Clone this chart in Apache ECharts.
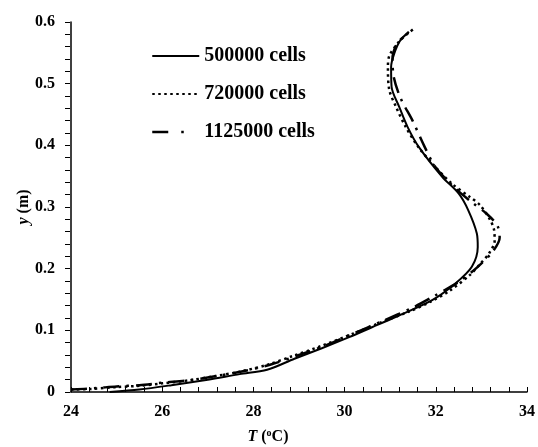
<!DOCTYPE html>
<html>
<head>
<meta charset="utf-8">
<script src="https://cdn.jsdelivr.net/npm/echarts@6/dist/echarts.min.js"></script>
<style>html,body{margin:0;padding:0;background:#fff;}#c{width:538px;height:447px;}</style>
</head>
<body>
<div id="c"></div>
<script>
var seriesNames = ['500000 cells', '720000 cells', '1125000 cells'];
var xTicks = [24, 26, 28, 30, 32, 34];
var yTicks = [0, 0.1, 0.2, 0.3, 0.4, 0.5, 0.6];

var T500 = [24.85, 25.5, 26.2, 27.0, 27.7, 28.3, 28.9, 29.5, 30.1, 30.6, 31.13, 31.92, 32.43, 32.79, 32.92, 32.9, 32.71, 32.5, 32.14, 31.63, 31.38, 31.2, 31.03, 31.02, 31.09, 31.22, 31.41];
var Y500 = [0, 0.004, 0.011, 0.02, 0.029, 0.036, 0.054, 0.071, 0.089, 0.105, 0.122, 0.149, 0.176, 0.203, 0.235, 0.257, 0.295, 0.322, 0.349, 0.397, 0.43, 0.462, 0.495, 0.527, 0.549, 0.57, 0.584];

var T720 = [24.0, 24.45, 25.0, 25.5, 26.0, 26.6, 27.1, 27.7, 28.3, 28.85, 29.5, 30.2, 30.8, 31.4, 31.9, 32.3, 32.75, 33.0, 33.17, 33.29, 33.28, 33.2, 32.97, 32.75, 32.35, 31.99, 31.62, 31.34, 31.13, 30.98, 30.95, 30.98, 31.16, 31.3, 31.5];
var Y720 = [0.004, 0.005, 0.008, 0.01, 0.014, 0.019, 0.025, 0.033, 0.044, 0.058, 0.075, 0.095, 0.113, 0.13, 0.147, 0.164, 0.19, 0.21, 0.225, 0.245, 0.262, 0.278, 0.303, 0.316, 0.338, 0.365, 0.397, 0.43, 0.462, 0.49, 0.527, 0.545, 0.565, 0.576, 0.588];

var T1125 = [24.0, 24.5, 25.0, 25.5, 26.0, 26.6, 27.2, 27.8, 28.4, 29.0, 29.6, 30.2, 30.8, 31.5, 31.95, 32.49, 32.92, 33.25, 33.4, 33.35, 33.1, 32.82, 32.43, 31.99, 31.74, 31.49, 31.23, 31.08, 31.05, 31.15, 31.4];
var Y1125 = [0.004, 0.006, 0.009, 0.011, 0.015, 0.019, 0.026, 0.034, 0.045, 0.06, 0.076, 0.095, 0.114, 0.137, 0.155, 0.178, 0.203, 0.228, 0.25, 0.27, 0.29, 0.306, 0.33, 0.365, 0.4, 0.44, 0.476, 0.51, 0.54, 0.565, 0.583];

function pairs(xs, ys) { return xs.map(function (x, i) { return [x, ys[i]]; }); }

var font = '"Liberation Serif", "Times New Roman", serif';
var chart = echarts.init(document.getElementById('c'), null, { renderer: 'canvas' });

var GL = 71, GR = 5, GT = 22, GB = 55, W = 538, H = 447;
var gridW = W - GL - GR, gridH = H - GT - GB;

function mainAxis(margin) {
  return {
    axisLine: { show: true, onZero: false, lineStyle: { color: '#000', width: 1.5 } },
    axisTick: { show: false },
    minorTick: { show: false },
    splitLine: { show: false },
    minorSplitLine: { show: false },
    axisLabel: { color: '#000', fontFamily: font, fontWeight: 'bold', fontSize: 16, margin: margin }
  };
}
function tickAxis() {
  return {
    axisLine: { show: false, onZero: false },
    axisTick: { show: true, length: 5, lineStyle: { color: '#000', width: 1 } },
    minorTick: { show: true, splitNumber: 5, length: 5, lineStyle: { color: '#000', width: 1 } },
    splitLine: { show: false },
    minorSplitLine: { show: false },
    axisLabel: { show: false }
  };
}

var lineStyles = [
  { color: '#000', width: 2, type: 'solid' },
  { color: '#000', width: 2.5, type: [2.5, 3.5] },
  { color: '#000', width: 2.5, type: [16, 7, 2.5, 7] }
];

chart.setOption({
  animation: false,
  backgroundColor: '#fff',
  grid: { left: GL, right: GR, top: GT, bottom: GB, containLabel: false },
  xAxis: [
    Object.assign(mainAxis(12), { type: 'value', position: 'bottom', min: xTicks[0], max: xTicks[xTicks.length - 1], interval: 2 }),
    Object.assign(tickAxis(), { type: 'value', position: 'top', offset: -gridH, min: xTicks[0], max: xTicks[xTicks.length - 1], interval: 2 })
  ],
  yAxis: [
    Object.assign(mainAxis(16), { type: 'value', position: 'left', min: yTicks[0], max: yTicks[yTicks.length - 1], interval: 0.1 }),
    Object.assign(tickAxis(), { type: 'value', position: 'right', offset: -gridW, min: yTicks[0], max: yTicks[yTicks.length - 1], interval: 0.1 })
  ],
  legend: {
    orient: 'vertical', left: 151, top: 46, padding: 0, itemGap: 18, itemWidth: 47, itemHeight: 20,
    data: [
      { name: seriesNames[0] },
      { name: seriesNames[1] },
      { name: seriesNames[2], lineStyle: { type: [16, 13, 2.5, 30], width: 2.5 } }
    ],
    itemStyle: { opacity: 0 },
    textStyle: { color: '#000', fontFamily: font, fontWeight: 'bold', fontSize: 20 }
  },
  graphic: [
    {
      type: 'text', x: 24, y: 207, rotation: Math.PI / 2,
      style: {
        text: '{i|y} (m)', align: 'center', verticalAlign: 'middle',
        fill: '#000', font: 'bold 16px ' + font,
        rich: { i: { fontStyle: 'italic', fontWeight: 'bold', fontSize: 16, fontFamily: font } }
      }
    },
    {
      type: 'text', x: 268, y: 437,
      style: {
        text: '{i|T} (' + '{s|o}' + 'C)', align: 'center', verticalAlign: 'middle',
        fill: '#000', font: 'bold 16px ' + font,
        rich: {
          i: { fontStyle: 'italic', fontWeight: 'bold', fontSize: 16, fontFamily: font },
          s: { fontWeight: 'bold', fontSize: 10, fontFamily: font, verticalAlign: 'top', padding: [0, 0, 7, 0] }
        }
      }
    }
  ],
  series: [
    {
      name: seriesNames[0], type: 'line', data: pairs(T500, Y500), smooth: 0.3,
      showSymbol: false, symbol: 'none', lineStyle: lineStyles[0], itemStyle: { color: '#000' }
    },
    {
      name: seriesNames[1], type: 'line', data: pairs(T720, Y720), smooth: 0.3,
      showSymbol: false, symbol: 'none', lineStyle: lineStyles[1], itemStyle: { color: '#000' }
    },
    {
      name: seriesNames[2], type: 'line', data: pairs(T1125, Y1125), smooth: 0.3,
      showSymbol: false, symbol: 'none', lineStyle: lineStyles[2], itemStyle: { color: '#000' }
    }
  ]
});
</script>
</body>
</html>
